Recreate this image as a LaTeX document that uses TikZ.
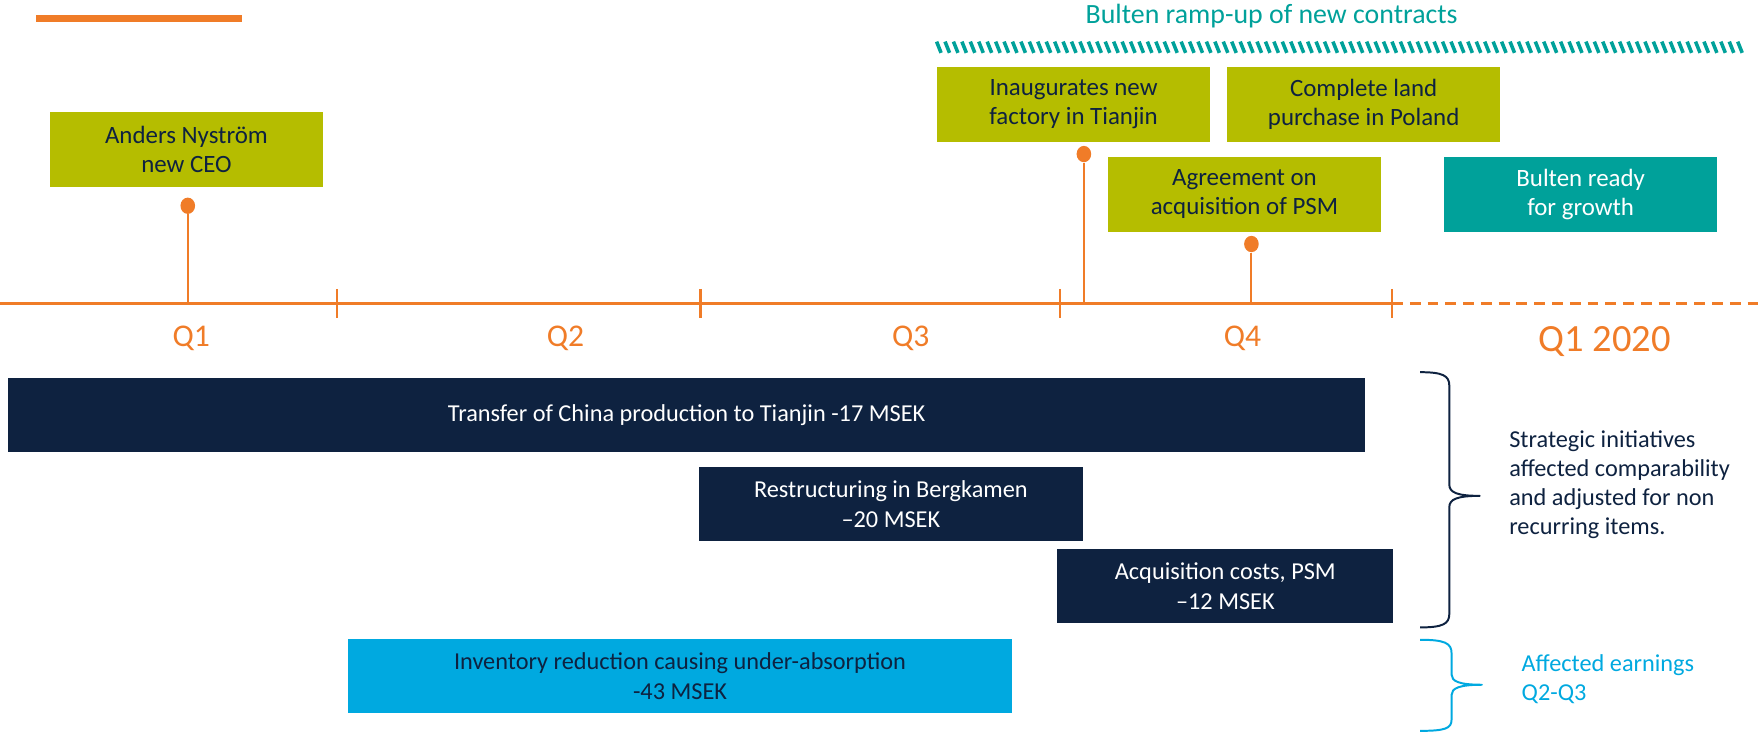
\documentclass[tikz,border=0pt]{standalone}
\usepackage{fontspec}
\setmainfont{Carlito}
\usetikzlibrary{positioning,calc,shapes.geometric}
\definecolor{bOrange}{RGB}{240,124,40}
\definecolor{bOlive}{RGB}{181,189,0}
\definecolor{bTeal}{RGB}{0,161,154}
\definecolor{bNavy}{RGB}{14,34,64}
\definecolor{bSky}{RGB}{0,169,224}

\begin{document}
\begin{tikzpicture}[x=0.02cm,y=-0.02cm,
  every node/.style={font=\fontsize{12.3}{14.8}\selectfont},
  event/.style={rectangle,fill=bOlive,text=bNavy,align=center,anchor=north west,
    font=\fontsize{12.6}{14.8}\selectfont,
    minimum width=4.86cm,minimum height=1.34cm,inner sep=0pt},
  cost/.style={rectangle,fill=bNavy,text=white,align=center,anchor=north west,
    minimum height=1.32cm,inner sep=0pt},
  pin/.style={ellipse,fill=bOrange,inner sep=0pt,minimum width=0.26cm,minimum height=0.29cm},
  quarter/.style={text=bOrange,font=\fontsize{16}{18}\selectfont},
  note/.style={anchor=west,align=left,inner sep=0pt},
  brace/.style={line width=1pt,line join=round}]
  \useasboundingbox (0,0) rectangle (1568,657);

  % header mark and ramp-up band
  \fill[bOrange] (32,13) rectangle (215,20);
  \node[text=bTeal,font=\fontsize{14.1}{16}\selectfont] (ramp) at (1131,14) {Bulten ramp-up of new contracts};
  \foreach \x in {833,840.5,...,1548}
    \draw[bTeal,line width=1.8pt] (\x,37) -- (\x+4,47);

  % time axis
  \coordinate (a0) at (0,270);
  \coordinate (a4) at (1238,270);
  \coordinate (aEnd) at (1568,270);
  \draw[bOrange,line width=1.4pt] (a0) -- (a4);
  \draw[bOrange,line width=1.4pt,dash pattern=on 5.5pt off 3.5pt] (a4) -- (aEnd);
  \foreach \t in {300,623,943,1238}
    \draw[bOrange,line width=1.1pt] (\t,257) -- (\t,283);
  \node[quarter] (q1) at (170,301) {Q1};
  \node[quarter] (q2) at (503,301) {Q2};
  \node[quarter] (q3) at (810,301) {Q3};
  \node[quarter] (q4) at (1105,301) {Q4};
  \node[quarter,font=\fontsize{19.5}{22}\selectfont] (q5) at (1427,304) {Q1 2020};

  % events
  \node[event] (ceo) at (44,99) {Anders Nyström\\new CEO};
  \node[event] (tianjin) at (833,59) {Inaugurates new\\factory in Tianjin};
  \node[event] (poland) at (1091,59) {Complete land\\purchase in Poland};
  \node[event] (psm) at (985,139) {Agreement on\\acquisition of PSM};
  \node[event,fill=bTeal,text=white] (ready) at (1284,139) {Bulten ready\\for growth};

  \node[pin] (pceo) at (167,183) {};
  \node[pin] (ptianjin) at (964,137) {};
  \node[pin] (ppsm) at (1113,217) {};
  \draw[bOrange,line width=1pt] (pceo) -- (pceo |- a0);
  \draw[bOrange,line width=1pt] (ptianjin) -- (ptianjin |- a0);
  \draw[bOrange,line width=1pt] (ppsm) -- (ppsm |- a0);

  % non recurring items
  \node[cost,minimum width=24.14cm] (china) at (7,336) {Transfer of China production to Tianjin -17 MSEK};
  \node[cost,minimum width=6.84cm] (bergkamen) at (621,415) {Restructuring in Bergkamen\\–20 MSEK};
  \node[cost,minimum width=5.98cm] (acq) at (940,488) {Acquisition costs, PSM\\–12 MSEK};
  \node[cost,fill=bSky,text=bNavy,minimum width=11.82cm] (stock) at (309,568) {Inventory reduction causing under-absorption\\-43 MSEK};

  % braces
  \draw[brace,bNavy] (1263,331) .. controls (1283,331) and (1289,334) .. (1289,343)
    -- (1289,431) .. controls (1289,438) and (1296,441) .. (1316,441)
    .. controls (1296,441) and (1289,444) .. (1289,451)
    -- (1289,546) .. controls (1289,555) and (1283,558) .. (1263,558);
  \draw[brace,bSky] (1263,569) .. controls (1285,569) and (1291,572) .. (1291,581)
    -- (1291,600) .. controls (1291,606) and (1298,609) .. (1318,609)
    .. controls (1298,609) and (1291,612) .. (1291,618)
    -- (1291,640) .. controls (1291,648) and (1285,650) .. (1263,650);
  \node[note,text=bNavy] (strat) at (1342,431) {Strategic initiatives\\affected comparability\\and adjusted for non\\recurring items.};
  \node[note,text=bSky] (earn) at (1353,604) {Affected earnings\\Q2-Q3};
\end{tikzpicture}
\end{document}
